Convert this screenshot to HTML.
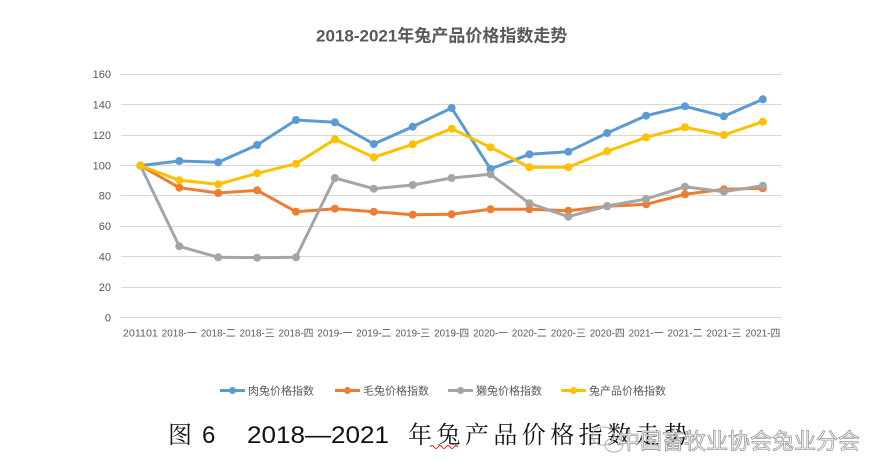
<!DOCTYPE html>
<html><head><meta charset="utf-8"><style>
html,body{margin:0;padding:0;background:#fff;}
svg{display:block;}
</style></head><body>
<svg width="889" height="476" viewBox="0 0 889 476" xmlns="http://www.w3.org/2000/svg">
<rect width="889" height="476" fill="#fff"/>
<text x="441.7" y="41.5" text-anchor="middle" font-family="'Liberation Sans','Noto Sans CJK SC',sans-serif" font-size="17" font-weight="bold" fill="#595959">2018-2021年兔产品价格指数走势</text>
<g stroke="#d9d9d9" stroke-width="1">
<line x1="121" y1="317.5" x2="782" y2="317.5"/>
<line x1="121" y1="287.5" x2="782" y2="287.5"/>
<line x1="121" y1="256.5" x2="782" y2="256.5"/>
<line x1="121" y1="226.5" x2="782" y2="226.5"/>
<line x1="121" y1="195.5" x2="782" y2="195.5"/>
<line x1="121" y1="165.5" x2="782" y2="165.5"/>
<line x1="121" y1="135.5" x2="782" y2="135.5"/>
<line x1="121" y1="104.5" x2="782" y2="104.5"/>
<line x1="121" y1="74.5" x2="782" y2="74.5"/>
</g>
<g font-family="'Liberation Sans',sans-serif" font-size="11" fill="#595959" text-anchor="end">
<text x="111" y="321.5">0</text>
<text x="111" y="291">20</text>
<text x="111" y="260.5">40</text>
<text x="111" y="230">60</text>
<text x="111" y="199.5">80</text>
<text x="111" y="169.5">100</text>
<text x="111" y="139">120</text>
<text x="111" y="108.5">140</text>
<text x="111" y="78">160</text>
</g>
<g font-family="'Liberation Sans','Noto Sans CJK SC',sans-serif" font-size="10.5" fill="#595959" text-anchor="middle">
<text x="140.4" y="336.5" textLength="35" lengthAdjust="spacingAndGlyphs">201101</text>
<text x="179.3" y="336.5" textLength="35" lengthAdjust="spacingAndGlyphs">2018-一</text>
<text x="218.2" y="336.5" textLength="35" lengthAdjust="spacingAndGlyphs">2018-二</text>
<text x="257.1" y="336.5" textLength="35" lengthAdjust="spacingAndGlyphs">2018-三</text>
<text x="296.0" y="336.5" textLength="35" lengthAdjust="spacingAndGlyphs">2018-四</text>
<text x="334.9" y="336.5" textLength="35" lengthAdjust="spacingAndGlyphs">2019-一</text>
<text x="373.8" y="336.5" textLength="35" lengthAdjust="spacingAndGlyphs">2019-二</text>
<text x="412.7" y="336.5" textLength="35" lengthAdjust="spacingAndGlyphs">2019-三</text>
<text x="451.6" y="336.5" textLength="35" lengthAdjust="spacingAndGlyphs">2019-四</text>
<text x="490.5" y="336.5" textLength="35" lengthAdjust="spacingAndGlyphs">2020-一</text>
<text x="529.4" y="336.5" textLength="35" lengthAdjust="spacingAndGlyphs">2020-二</text>
<text x="568.3" y="336.5" textLength="35" lengthAdjust="spacingAndGlyphs">2020-三</text>
<text x="607.2" y="336.5" textLength="35" lengthAdjust="spacingAndGlyphs">2020-四</text>
<text x="646.1" y="336.5" textLength="35" lengthAdjust="spacingAndGlyphs">2021-一</text>
<text x="685.0" y="336.5" textLength="35" lengthAdjust="spacingAndGlyphs">2021-二</text>
<text x="723.9" y="336.5" textLength="35" lengthAdjust="spacingAndGlyphs">2021-三</text>
<text x="762.8" y="336.5" textLength="35" lengthAdjust="spacingAndGlyphs">2021-四</text>
</g>
<!-- blue -->
<g stroke="#5B9BD5" fill="#5B9BD5">
<polyline fill="none" stroke-width="3" stroke-linejoin="round" points="140.4,165.6 179.3,161 218.2,162.3 257.1,145 296,120 334.9,122.3 373.8,144 412.7,126.7 451.6,108 490.5,169 529.4,154.3 568.3,151.7 607.2,133 646.1,115.7 685,106.3 723.9,116.3 762.8,99.3"/>
<g stroke="none">
<circle cx="140.4" cy="165.6" r="4"/><circle cx="179.3" cy="161" r="4"/><circle cx="218.2" cy="162.3" r="4"/><circle cx="257.1" cy="145" r="4"/><circle cx="296" cy="120" r="4"/><circle cx="334.9" cy="122.3" r="4"/><circle cx="373.8" cy="144" r="4"/><circle cx="412.7" cy="126.7" r="4"/><circle cx="451.6" cy="108" r="4"/><circle cx="490.5" cy="169" r="4"/><circle cx="529.4" cy="154.3" r="4"/><circle cx="568.3" cy="151.7" r="4"/><circle cx="607.2" cy="133" r="4"/><circle cx="646.1" cy="115.7" r="4"/><circle cx="685" cy="106.3" r="4"/><circle cx="723.9" cy="116.3" r="4"/><circle cx="762.8" cy="99.3" r="4"/>
</g></g>
<!-- orange -->
<g stroke="#ED7D31" fill="#ED7D31">
<polyline fill="none" stroke-width="3" stroke-linejoin="round" points="140.4,165.6 179.3,187.7 218.2,193 257.1,190.3 296,211.7 334.9,208.7 373.8,211.7 412.7,214.7 451.6,214.3 490.5,209.3 529.4,209.3 568.3,210.7 607.2,206.3 646.1,204.3 685,194.3 723.9,189.3 762.8,188.3"/>
<g stroke="none">
<circle cx="140.4" cy="165.6" r="4"/><circle cx="179.3" cy="187.7" r="4"/><circle cx="218.2" cy="193" r="4"/><circle cx="257.1" cy="190.3" r="4"/><circle cx="296" cy="211.7" r="4"/><circle cx="334.9" cy="208.7" r="4"/><circle cx="373.8" cy="211.7" r="4"/><circle cx="412.7" cy="214.7" r="4"/><circle cx="451.6" cy="214.3" r="4"/><circle cx="490.5" cy="209.3" r="4"/><circle cx="529.4" cy="209.3" r="4"/><circle cx="568.3" cy="210.7" r="4"/><circle cx="607.2" cy="206.3" r="4"/><circle cx="646.1" cy="204.3" r="4"/><circle cx="685" cy="194.3" r="4"/><circle cx="723.9" cy="189.3" r="4"/><circle cx="762.8" cy="188.3" r="4"/>
</g></g>
<!-- gray -->
<g stroke="#A5A5A5" fill="#A5A5A5">
<polyline fill="none" stroke-width="3" stroke-linejoin="round" points="140.4,165.6 179.3,246.3 218.2,257.3 257.1,257.7 296,257.3 334.9,178 373.8,188.7 412.7,185 451.6,178 490.5,174.3 529.4,203.3 568.3,216.7 607.2,206 646.1,199 685,186.7 723.9,191.7 762.8,185.7"/>
<g stroke="none">
<circle cx="140.4" cy="165.6" r="4"/><circle cx="179.3" cy="246.3" r="4"/><circle cx="218.2" cy="257.3" r="4"/><circle cx="257.1" cy="257.7" r="4"/><circle cx="296" cy="257.3" r="4"/><circle cx="334.9" cy="178" r="4"/><circle cx="373.8" cy="188.7" r="4"/><circle cx="412.7" cy="185" r="4"/><circle cx="451.6" cy="178" r="4"/><circle cx="490.5" cy="174.3" r="4"/><circle cx="529.4" cy="203.3" r="4"/><circle cx="568.3" cy="216.7" r="4"/><circle cx="607.2" cy="206" r="4"/><circle cx="646.1" cy="199" r="4"/><circle cx="685" cy="186.7" r="4"/><circle cx="723.9" cy="191.7" r="4"/><circle cx="762.8" cy="185.7" r="4"/>
</g></g>
<!-- yellow -->
<g stroke="#FFC000" fill="#FFC000">
<polyline fill="none" stroke-width="3" stroke-linejoin="round" points="140.4,165.6 179.3,180.3 218.2,184.3 257.1,173.3 296,163.7 334.9,139.3 373.8,157.3 412.7,144.3 451.6,128.7 490.5,147.3 529.4,167.3 568.3,167.3 607.2,151.3 646.1,137.3 685,127.3 723.9,135 762.8,121.7"/>
<g stroke="none">
<circle cx="140.4" cy="165.6" r="4"/><circle cx="179.3" cy="180.3" r="4"/><circle cx="218.2" cy="184.3" r="4"/><circle cx="257.1" cy="173.3" r="4"/><circle cx="296" cy="163.7" r="4"/><circle cx="334.9" cy="139.3" r="4"/><circle cx="373.8" cy="157.3" r="4"/><circle cx="412.7" cy="144.3" r="4"/><circle cx="451.6" cy="128.7" r="4"/><circle cx="490.5" cy="147.3" r="4"/><circle cx="529.4" cy="167.3" r="4"/><circle cx="568.3" cy="167.3" r="4"/><circle cx="607.2" cy="151.3" r="4"/><circle cx="646.1" cy="137.3" r="4"/><circle cx="685" cy="127.3" r="4"/><circle cx="723.9" cy="135" r="4"/><circle cx="762.8" cy="121.7" r="4"/>
</g></g>
<!-- legend -->
<g font-family="'Liberation Sans','Noto Sans CJK SC',sans-serif" font-size="11" fill="#595959">
<line x1="220" y1="390.5" x2="245" y2="390.5" stroke="#5B9BD5" stroke-width="3"/><circle cx="232.5" cy="390.5" r="3.5" fill="#5B9BD5"/>
<text x="248" y="394.5">肉兔价格指数</text>
<line x1="335" y1="390.5" x2="360" y2="390.5" stroke="#ED7D31" stroke-width="3"/><circle cx="347.5" cy="390.5" r="3.5" fill="#ED7D31"/>
<text x="363" y="394.5">毛兔价格指数</text>
<line x1="448" y1="390.5" x2="473" y2="390.5" stroke="#A5A5A5" stroke-width="3"/><circle cx="460.5" cy="390.5" r="3.5" fill="#A5A5A5"/>
<text x="476" y="394.5">獭兔价格指数</text>
<line x1="561" y1="390.5" x2="586" y2="390.5" stroke="#FFC000" stroke-width="3"/><circle cx="573.5" cy="390.5" r="3.5" fill="#FFC000"/>
<text x="589" y="394.5">兔产品价格指数</text>
</g>
<!-- caption -->
<g font-family="'Liberation Sans','Noto Serif CJK SC',serif" font-size="24" fill="#111">
<text x="168" y="443" font-family="'Noto Serif CJK SC',serif">图</text>
<text x="202" y="443">6</text>
<text x="247" y="443" textLength="142" lengthAdjust="spacingAndGlyphs">2018—2021</text>
<text x="408" y="443" font-family="'Noto Serif CJK SC',serif" textLength="280" lengthAdjust="spacing">年兔产品价格指数走势</text>
</g>
<path d="M430,447 q2,-3 4,0 t4,0 t4,0 t4,0 t4,0 t4,0 t4,0" fill="none" stroke="#e02020" stroke-width="1"/>
<!-- watermark -->
<g fill="none" stroke="#b0b0b0" stroke-width="1">
<ellipse cx="603" cy="436" rx="11" ry="9"/>
<ellipse cx="614" cy="445" rx="9" ry="7"/>
</g>
<text x="618" y="449" font-family="'Noto Sans CJK SC',sans-serif" font-size="22" fill="#fff" stroke="#9a9a9a" stroke-width="0.8" textLength="242" lengthAdjust="spacing">中国畜牧业协会兔业分会</text>
</svg>
</body></html>
